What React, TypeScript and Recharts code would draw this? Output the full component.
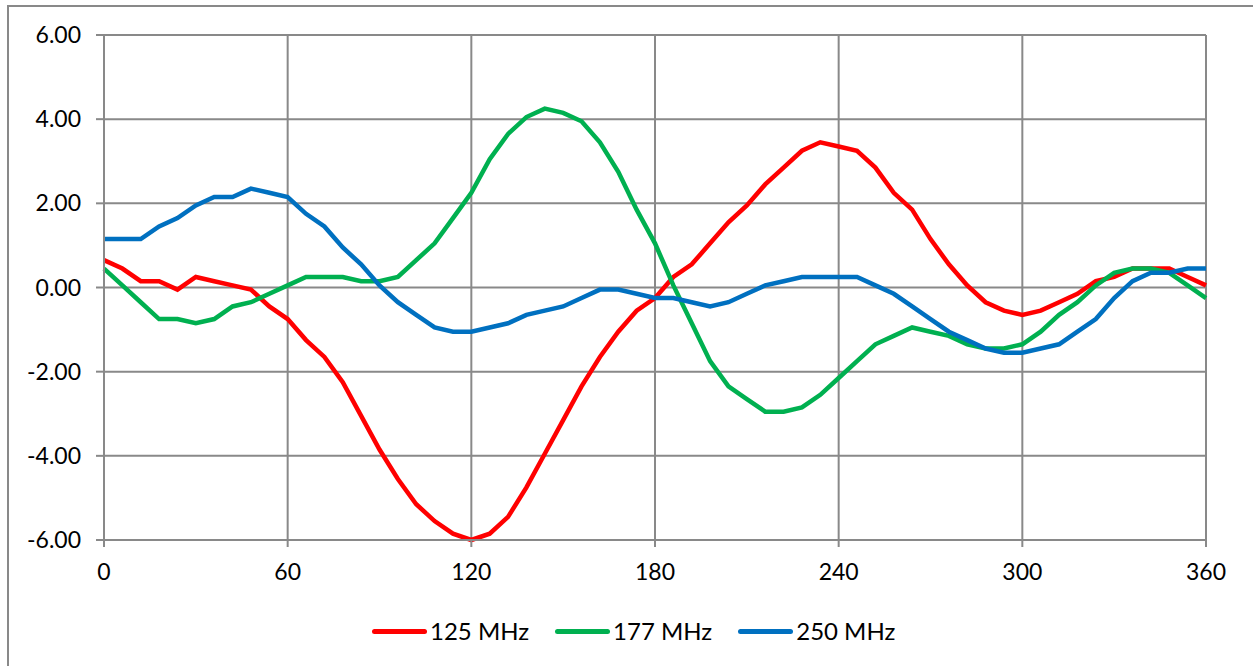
import { LineChart, Line, XAxis, YAxis, CartesianGrid } from 'recharts';

const angles = Array.from({ length: 61 }, (_, i) => i * 6);

const mhz125 = [
  0.65, 0.45, 0.15, 0.15, -0.05, 0.25, 0.15, 0.05, -0.05, -0.45,
  -0.75, -1.25, -1.65, -2.25, -3.05, -3.85, -4.55, -5.15, -5.55, -5.85,
  -6.0, -5.85, -5.45, -4.75, -3.95, -3.15, -2.35, -1.65, -1.05, -0.55,
  -0.25, 0.25, 0.55, 1.05, 1.55, 1.95, 2.45, 2.85, 3.25, 3.45,
  3.35, 3.25, 2.85, 2.25, 1.85, 1.15, 0.55, 0.05, -0.35, -0.55,
  -0.65, -0.55, -0.35, -0.15, 0.15, 0.25, 0.45, 0.45, 0.45, 0.25,
  0.05,
];

const mhz177 = [
  0.45, 0.05, -0.35, -0.75, -0.75, -0.85, -0.75, -0.45, -0.35, -0.15,
  0.05, 0.25, 0.25, 0.25, 0.15, 0.15, 0.25, 0.65, 1.05, 1.65,
  2.25, 3.05, 3.65, 4.05, 4.25, 4.15, 3.95, 3.45, 2.75, 1.85,
  1.05, 0.05, -0.85, -1.75, -2.35, -2.65, -2.95, -2.95, -2.85, -2.55,
  -2.15, -1.75, -1.35, -1.15, -0.95, -1.05, -1.15, -1.35, -1.45, -1.45,
  -1.35, -1.05, -0.65, -0.35, 0.05, 0.35, 0.45, 0.45, 0.35, 0.05,
  -0.25,
];

const mhz250 = [
  1.15, 1.15, 1.15, 1.45, 1.65, 1.95, 2.15, 2.15, 2.35, 2.25,
  2.15, 1.75, 1.45, 0.95, 0.55, 0.05, -0.35, -0.65, -0.95, -1.05,
  -1.05, -0.95, -0.85, -0.65, -0.55, -0.45, -0.25, -0.05, -0.05, -0.15,
  -0.25, -0.25, -0.35, -0.45, -0.35, -0.15, 0.05, 0.15, 0.25, 0.25,
  0.25, 0.25, 0.05, -0.15, -0.45, -0.75, -1.05, -1.25, -1.45, -1.55,
  -1.55, -1.45, -1.35, -1.05, -0.75, -0.25, 0.15, 0.35, 0.35, 0.45,
  0.45,
];

const xTicks = [0, 60, 120, 180, 240, 300, 360];
const yTicks = [-6, -4, -2, 0, 2, 4, 6];

const series = [
  { key: 'a', name: '125 MHz', color: '#ff0000', values: mhz125 },
  { key: 'b', name: '177 MHz', color: '#00b050', values: mhz177 },
  { key: 'c', name: '250 MHz', color: '#0070c0', values: mhz250 },
];

const data = angles.map((angle, i) => ({
  angle,
  a: mhz125[i],
  b: mhz177[i],
  c: mhz250[i],
}));

const font = 'Lato, "Noto Sans", sans-serif';
const gridColor = '#898989';

export default function App() {
  return (
    <div style={{ position: 'absolute', left: 0, top: 0, width: 1253, height: 666, background: '#fff', fontFamily: font }}>
      <div
        style={{
          position: 'absolute',
          left: 7,
          top: 5,
          width: 1260,
          height: 670,
          borderLeft: `2px solid ${gridColor}`,
          borderTop: `2px solid ${gridColor}`,
          boxSizing: 'border-box',
        }}
      />
      <div style={{ position: 'absolute', left: 0, top: 0 }}>
        <LineChart
          width={1253}
          height={666}
          data={data}
          margin={{ top: 35, right: 47, bottom: 0, left: 0 }}
        >
          <CartesianGrid stroke={gridColor} strokeWidth={2} ticks={xTicks} />
          <XAxis
            dataKey="angle"
            type="number"
            domain={[0, 360]}
            ticks={xTicks}
            stroke={gridColor}
            strokeWidth={2}
            tickSize={7}
            tickMargin={17}
            tick={{ fill: '#000', fontSize: 23, fontFamily: font }}
            height={126}
          />
          <YAxis
            type="number"
            domain={[-6, 6]}
            ticks={yTicks}
            width={104}
            stroke={gridColor}
            strokeWidth={2}
            tickSize={8}
            tickMargin={15}
            tickFormatter={(v: number) => v.toFixed(2)}
            tick={{ fill: '#000', fontSize: 23, fontFamily: font }}
            interval={0}
          />
          {series.map((s) => (
            <Line
              key={s.key}
              type="linear"
              dataKey={s.key}
              name={s.name}
              stroke={s.color}
              strokeWidth={4.5}
              dot={false}
              activeDot={false}
              isAnimationActive={false}
            />
          ))}
        </LineChart>
      </div>
      <div
        style={{
          position: 'absolute',
          left: 372,
          top: 616,
          display: 'flex',
          alignItems: 'center',
          fontSize: 24,
          color: '#000',
          lineHeight: '30px',
        }}
      >
        {series.map((s) => (
          <div key={s.key} style={{ display: 'flex', alignItems: 'center', marginRight: 26 }}>
            <div style={{ width: 55, height: 5, borderRadius: 3, background: s.color, marginRight: 3 }} />
            <span>{s.name}</span>
          </div>
        ))}
      </div>
    </div>
  );
}
